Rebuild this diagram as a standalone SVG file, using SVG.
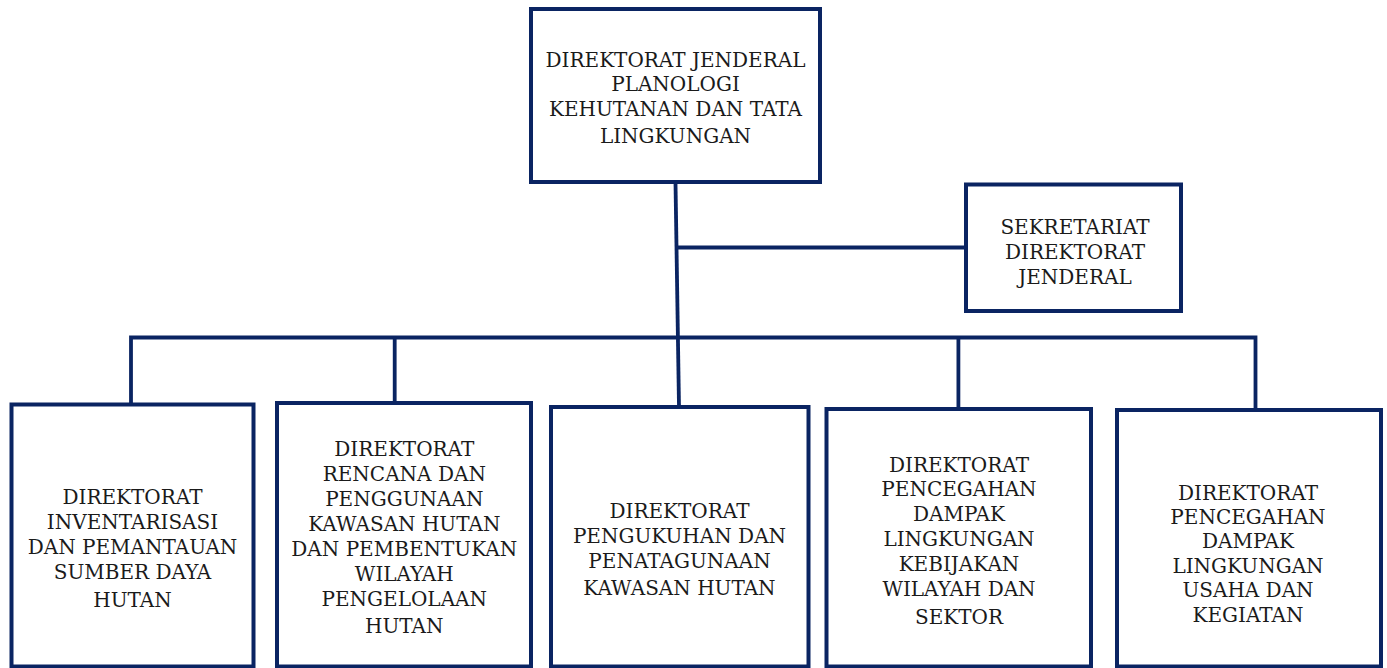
<svg xmlns="http://www.w3.org/2000/svg" width="1387" height="668" viewBox="0 0 1387 668">
<style>
.box{fill:#ffffff;stroke:#0a2462;stroke-width:4}
.ln{fill:none;stroke:#0a2462;stroke-width:3.8}
text{font-family:"DejaVu Serif","Liberation Serif",serif;font-size:20px;fill:#1a1a1a;text-anchor:middle}
</style>
<rect width="1387" height="668" fill="#ffffff"/>
<g id="connectors">
<line class="ln" x1="675.5" y1="183" x2="679" y2="407"/>
<line class="ln" x1="676.5" y1="247.5" x2="966" y2="247.5"/>
<path class="ln" d="M131,404 V337.5 H1255.5 V410"/>
<line class="ln" x1="394.7" y1="337.5" x2="394.7" y2="403"/>
<line class="ln" x1="958.4" y1="337.5" x2="958.4" y2="409"/>
</g>
<g id="dirjen">
<rect class="box" x="531" y="9" width="289" height="173"/>
<text x="675.5" y="66.7">DIREKTORAT JENDERAL</text>
<text x="675.5" y="90.7">PLANOLOGI</text>
<text x="675.5" y="116">KEHUTANAN DAN TATA</text>
<text x="675.5" y="142.7">LINGKUNGAN</text>
</g>
<g id="sekretariat">
<rect class="box" x="966" y="184.5" width="215" height="126.5"/>
<text x="1075" y="234">SEKRETARIAT</text>
<text x="1075" y="259">DIREKTORAT</text>
<text x="1075" y="284">JENDERAL</text>
</g>
<g id="dir-ipsdh">
<rect class="box" x="11.5" y="404.5" width="242" height="262"/>
<text x="132.5" y="504.3">DIREKTORAT</text>
<text x="132.5" y="529.3">INVENTARISASI</text>
<text x="132.5" y="554.3">DAN PEMANTAUAN</text>
<text x="132.5" y="579.3">SUMBER DAYA</text>
<text x="132.5" y="606.7">HUTAN</text>
</g>
<g id="dir-rpkh">
<rect class="box" x="277" y="403" width="254" height="263.5"/>
<text x="404.3" y="456">DIREKTORAT</text>
<text x="404.3" y="481">RENCANA DAN</text>
<text x="404.3" y="506">PENGGUNAAN</text>
<text x="404.3" y="531">KAWASAN HUTAN</text>
<text x="404.3" y="556">DAN PEMBENTUKAN</text>
<text x="404.3" y="581">WILAYAH</text>
<text x="404.3" y="606">PENGELOLAAN</text>
<text x="404.3" y="633.3">HUTAN</text>
</g>
<g id="dir-pktkh">
<rect class="box" x="551" y="407" width="257.5" height="259.5"/>
<text x="679.5" y="518.3">DIREKTORAT</text>
<text x="679.5" y="542.7">PENGUKUHAN DAN</text>
<text x="679.5" y="567.7">PENATAGUNAAN</text>
<text x="679.5" y="595">KAWASAN HUTAN</text>
</g>
<g id="dir-pdlkws">
<rect class="box" x="826.5" y="409" width="264.5" height="257.5"/>
<text x="959" y="471.7">DIREKTORAT</text>
<text x="959" y="496">PENCEGAHAN</text>
<text x="959" y="521">DAMPAK</text>
<text x="959" y="546">LINGKUNGAN</text>
<text x="959" y="571">KEBIJAKAN</text>
<text x="959" y="596">WILAYAH DAN</text>
<text x="959" y="624">SEKTOR</text>
</g>
<g id="dir-pdluk">
<rect class="box" x="1117" y="410" width="264" height="256.5"/>
<text x="1248" y="500">DIREKTORAT</text>
<text x="1248" y="524">PENCEGAHAN</text>
<text x="1248" y="548.3">DAMPAK</text>
<text x="1248" y="572.7">LINGKUNGAN</text>
<text x="1248" y="596.7">USAHA DAN</text>
<text x="1248" y="621.7">KEGIATAN</text>
</g>
</svg>
